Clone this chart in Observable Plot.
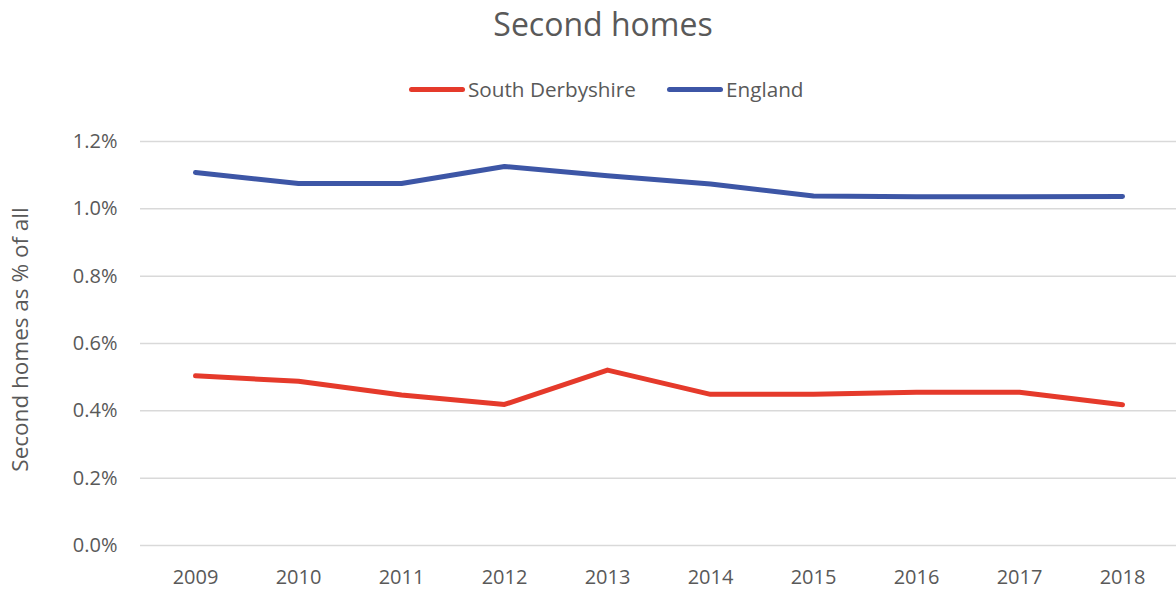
<!DOCTYPE html>
<html>
<head>
<meta charset="utf-8">
<script src="https://cdn.jsdelivr.net/npm/d3@7"></script>
<script src="https://cdn.jsdelivr.net/npm/@observablehq/plot@0.6"></script>
<style>
  html, body { margin: 0; padding: 0; background: #fff; }
  body { width: 1176px; height: 590px; position: relative; overflow: hidden; font-family: "Open Sans", sans-serif; color: #595959; }
  #title { position: absolute; left: 30px; width: 1146px; top: 2px; text-align: center; font-size: 32px; line-height: 44px; }
  #legend { position: absolute; top: 75px; left: 0; width: 1176px; height: 28px; }
  .item { position: absolute; top: 0; display: flex; align-items: center; font-size: 20.7px; line-height: 28px; }
  .sw { width: 56px; height: 5px; border-radius: 3px; margin-right: 3px; }
  #chart { position: absolute; left: 0; top: 115px; }
</style>
</head>
<body>
<div id="title">Second homes</div>
<div id="legend"></div>
<div id="chart"></div>
<script>
const years = ["2009","2010","2011","2012","2013","2014","2015","2016","2017","2018"];
const seriesNames = ["South Derbyshire", "England"];
const seriesColors = ["#E53A2B", "#3D56A6"];
const southDerbyshire = [0.504, 0.488, 0.447, 0.419, 0.521, 0.449, 0.449, 0.455, 0.455, 0.418];
const england = [1.108, 1.075, 1.075, 1.126, 1.098, 1.074, 1.038, 1.036, 1.036, 1.037];
const yTicks = [0, 0.002, 0.004, 0.006, 0.008, 0.010, 0.012];
const yLabel = "Second homes as % of all";

const data = [];
[southDerbyshire, england].forEach((vals, si) => {
  vals.forEach((v, i) => data.push({series: seriesNames[si], year: years[i], value: v / 100}));
});

// legend
const legend = document.getElementById("legend");
const legendX = [409, 667];
seriesNames.forEach((n, i) => {
  const d = document.createElement("div");
  d.className = "item";
  d.style.left = legendX[i] + "px";
  d.innerHTML = `<div class="sw" style="background:${seriesColors[i]}"></div><span>${n}</span>`;
  legend.appendChild(d);
});

const chart = Plot.plot({
  width: 1176,
  height: 475,
  marginLeft: 140,
  marginRight: 0,
  marginTop: 26,
  marginBottom: 45,
  style: {fontFamily: "Open Sans, sans-serif", fontSize: "20px", color: "#595959", background: "#fff"},
  x: {type: "point", domain: years, padding: 0.5, label: null},
  y: {domain: [0, 0.012], ticks: yTicks, label: null},
  color: {domain: seriesNames, range: seriesColors},
  marks: [
    Plot.gridY(yTicks, {stroke: "#d9d9d9", strokeOpacity: 1, strokeWidth: 1.5}),
    Plot.axisY({ticks: yTicks, tickSize: 0, tickPadding: 23, tickFormat: d3.format(".1%"), label: null, fill: "#595959"}),
    Plot.axisX({tickSize: 0, tickPadding: 24, label: null, fill: "#595959"}),
    Plot.text([yLabel], {frameAnchor: "left", dx: -120, dy: -4, rotate: -90, textAnchor: "middle", fontSize: 22.5, fill: "#595959"}),
    Plot.line(data, {x: "year", y: "value", z: "series", stroke: "series", strokeWidth: 5, strokeLinecap: "round", strokeLinejoin: "round"})
  ]
});
document.getElementById("chart").appendChild(chart);
</script>
</body>
</html>
